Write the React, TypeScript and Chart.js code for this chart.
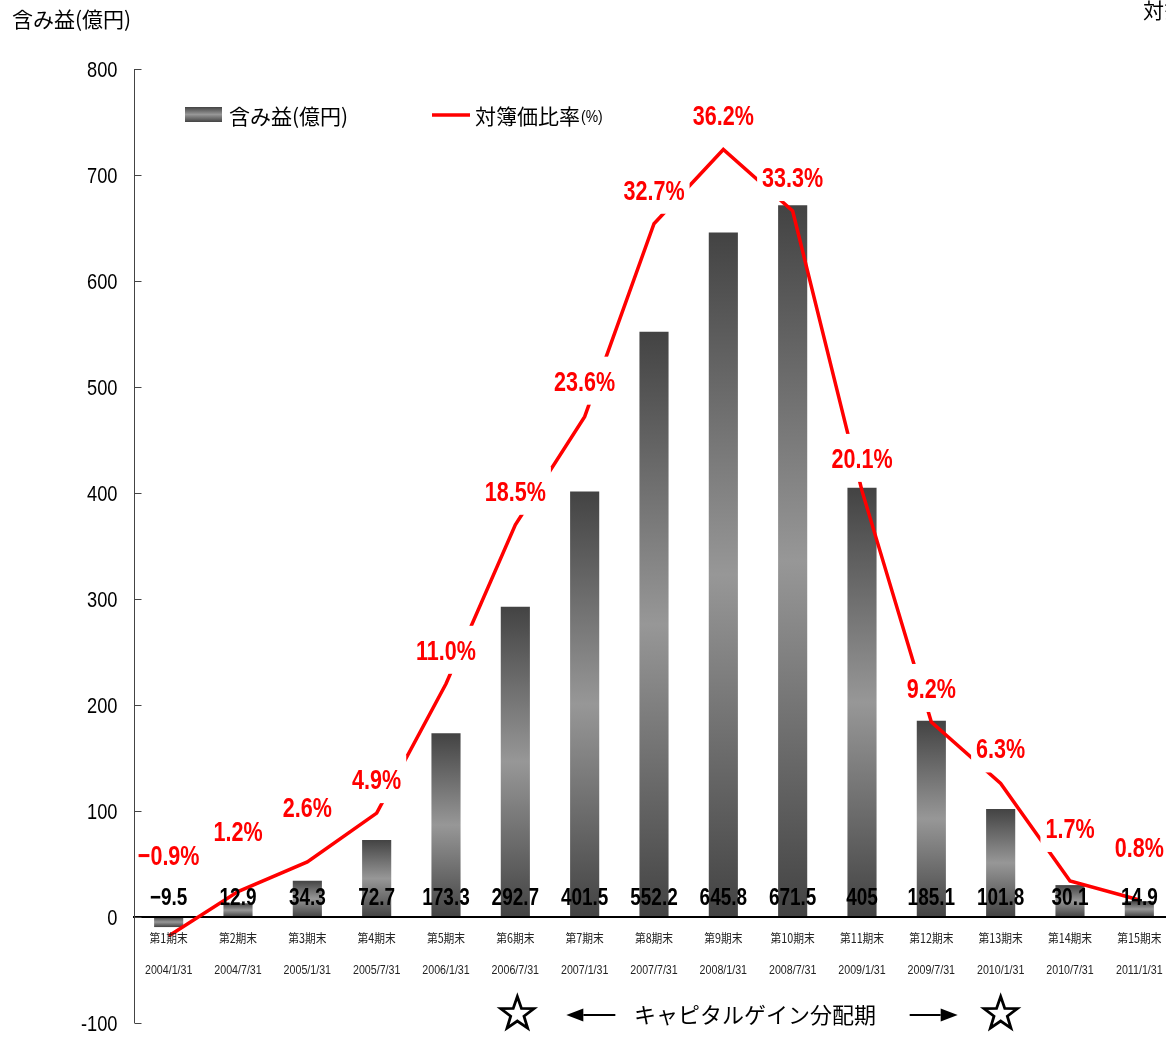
import { useEffect, useRef } from "react";
import { Chart, registerables } from "chart.js";

Chart.register(...registerables);

// ---- data ----
const periods = [
  "第1期末", "第2期末", "第3期末", "第4期末", "第5期末",
  "第6期末", "第7期末", "第8期末", "第9期末", "第10期末",
  "第11期末", "第12期末", "第13期末", "第14期末", "第15期末",
];
const periodDates = [
  "2004/1/31", "2004/7/31", "2005/1/31", "2005/7/31", "2006/1/31",
  "2006/7/31", "2007/1/31", "2007/7/31", "2008/1/31", "2008/7/31",
  "2009/1/31", "2009/7/31", "2010/1/31", "2010/7/31", "2011/1/31",
];
// 含み益 (億円)
const unrealizedGains = [
  -9.5, 12.9, 34.3, 72.7, 173.3, 292.7, 401.5, 552.2, 645.8, 671.5,
  405, 185.1, 101.8, 30.1, 14.9,
];
// 対簿価比率 (%)
const bookValueRatios = [
  -0.9, 1.2, 2.6, 4.9, 11.0, 18.5, 23.6, 32.7, 36.2, 33.3,
  20.1, 9.2, 6.3, 1.7, 0.8,
];
const gainTicks = [-100, 0, 100, 200, 300, 400, 500, 600, 700, 800];
const ratioAxisRange = { min: -5, max: 40 };

// ---- presentation ----
const CANVAS_W = 1300;
const CANVAS_H = 1039;
const SANS = '"Liberation Sans", Arial, sans-serif';
const JP = '"Noto Sans CJK JP", sans-serif';
const NARROW_X = 0.82;
// how far (px) each percentage label sits above its point
const ratioLabelLift = [81, 61, 55, 34, 34, 34, 36, 34, 35, 34, 33, 34, 35, 53, 53];

const fmtRatio = (v: number) => `${v.toFixed(1)}%`.replace("-", "−");
const fmtGain = (v: number) => String(v).replace("-", "−");

// draws horizontally condensed text; returns its drawn width
function narrowText(
  ctx: CanvasRenderingContext2D,
  text: string,
  x: number,
  y: number,
  font: string,
  align: CanvasTextAlign,
  sx = NARROW_X,
  baseline: CanvasTextBaseline = "alphabetic",
) {
  ctx.save();
  ctx.font = font;
  ctx.textAlign = align;
  ctx.textBaseline = baseline;
  ctx.translate(x, y);
  ctx.scale(sx, 1);
  ctx.fillText(text, 0, 0);
  const w = ctx.measureText(text).width * sx;
  ctx.restore();
  return w;
}

function measureNarrow(ctx: CanvasRenderingContext2D, text: string, font: string, sx = NARROW_X) {
  ctx.save();
  ctx.font = font;
  const w = ctx.measureText(text).width * sx;
  ctx.restore();
  return w;
}

function barGradient(ctx: CanvasRenderingContext2D, top: number, base: number) {
  const g = ctx.createLinearGradient(0, top, 0, base);
  g.addColorStop(0, "#434343");
  g.addColorStop(0.5, "#979797");
  g.addColorStop(1, "#434343");
  return g;
}

function drawStar(ctx: CanvasRenderingContext2D, cx: number, cy: number, r: number) {
  const inner = r * 0.4;
  ctx.beginPath();
  for (let i = 0; i < 10; i++) {
    const rad = i % 2 === 0 ? r : inner;
    const a = -Math.PI / 2 + (i * Math.PI) / 5;
    const px = cx + rad * Math.cos(a);
    const py = cy + rad * Math.sin(a);
    if (i === 0) ctx.moveTo(px, py);
    else ctx.lineTo(px, py);
  }
  ctx.closePath();
  ctx.lineWidth = 2.8;
  ctx.lineJoin = "miter";
  ctx.strokeStyle = "#000";
  ctx.stroke();
}

function drawArrow(ctx: CanvasRenderingContext2D, x1: number, x2: number, y: number) {
  // arrow from x1 (tail) to x2 (tip)
  const dir = Math.sign(x2 - x1);
  const head = 17;
  ctx.strokeStyle = "#000";
  ctx.lineWidth = 2;
  ctx.beginPath();
  ctx.moveTo(x1, y);
  ctx.lineTo(x2 - dir * head, y);
  ctx.stroke();
  ctx.fillStyle = "#000";
  ctx.beginPath();
  ctx.moveTo(x2, y);
  ctx.lineTo(x2 - dir * head, y - 6.5);
  ctx.lineTo(x2 - dir * head, y + 6.5);
  ctx.closePath();
  ctx.fill();
}

const decorations = {
  id: "decorations",
  afterDatasetDraw(chart: any, args: any) {
    // zero line sits above the bars but beneath the ratio line
    if (args.index !== 0) return;
    const { ctx, chartArea, scales } = chart;
    const y0 = scales.y.getPixelForValue(0);
    ctx.save();
    ctx.strokeStyle = "#000";
    ctx.lineWidth = 2.2;
    ctx.beginPath();
    ctx.moveTo(chartArea.left - 1, y0);
    ctx.lineTo(chartArea.right, y0);
    ctx.stroke();
    ctx.restore();
  },
  afterDatasetsDraw(chart: any) {
    const { ctx, chartArea, scales } = chart;
    const xs = scales.x;
    const ys = scales.y;
    const y1 = scales.y1;
    ctx.save();

    // ratio labels on white boxes
    const ratioFont = `bold 28px ${SANS}`;
    const ratioSx = 0.77;
    bookValueRatios.forEach((v, i) => {
      const cx = xs.getPixelForValue(i);
      const cy = y1.getPixelForValue(v) - ratioLabelLift[i];
      const text = fmtRatio(v);
      const w = measureNarrow(ctx, text, ratioFont, ratioSx);
      ctx.fillStyle = "#fff";
      ctx.fillRect(cx - w / 2 - 5, cy - 24, w + 10, 48);
      ctx.fillStyle = "#ff0000";
      narrowText(ctx, text, cx, cy + 10, ratioFont, "center", ratioSx);
    });

    // left axis: line, inward ticks, labels
    const ax = Math.round(chartArea.left) + 0.5;
    ctx.strokeStyle = "#444";
    ctx.lineWidth = 1;
    ctx.beginPath();
    ctx.moveTo(ax, chartArea.top);
    ctx.lineTo(ax, chartArea.bottom);
    ctx.stroke();
    ctx.fillStyle = "#000";
    gainTicks.forEach((v) => {
      const py = Math.round(ys.getPixelForValue(v)) + 0.5;
      ctx.beginPath();
      ctx.moveTo(ax, py);
      ctx.lineTo(ax + 7, py);
      ctx.stroke();
      narrowText(ctx, String(v), 117.5, py + 7.6, `21.5px ${SANS}`, "right", 0.85);
    });

    // gain values just above the zero line
    const y0 = ys.getPixelForValue(0);
    ctx.fillStyle = "#000";
    unrealizedGains.forEach((v, i) => {
      narrowText(ctx, fmtGain(v), xs.getPixelForValue(i), y0 - 12, `bold 24px ${SANS}`, "center", 0.79);
    });

    // category labels
    ctx.fillStyle = "#222";
    periods.forEach((p, i) => {
      const cx = xs.getPixelForValue(i);
      narrowText(ctx, p, cx, y0 + 21, `12.5px ${JP}`, "center", 0.86, "middle");
      narrowText(ctx, periodDates[i], cx, y0 + 56.5, `13px ${SANS}`, "center");
    });

    // axis titles
    ctx.textAlign = "left";
    ctx.textBaseline = "middle";
    ctx.fillStyle = "#000";
    ctx.font = `21px ${JP}`;
    ctx.fillText("含み益(億円)", 12, 19);
    ctx.fillText("対簿価比率(%)", 1143, 10);

    // legend
    ctx.fillStyle = barGradient(ctx, 107, 122);
    ctx.fillRect(185, 107, 37, 15);
    ctx.fillStyle = "#000";
    ctx.font = `21px ${JP}`;
    ctx.fillText("含み益(億円)", 229, 116);
    ctx.strokeStyle = "#ff0000";
    ctx.lineWidth = 3.5;
    ctx.beginPath();
    ctx.moveTo(432, 115);
    ctx.lineTo(470, 115);
    ctx.stroke();
    ctx.fillText("対簿価比率", 475, 116);
    const wr = ctx.measureText("対簿価比率").width;
    narrowText(ctx, "(%)", 475 + wr + 1, 122, `17px ${SANS}`, "left");

    // distribution-period annotation
    const xa = xs.getPixelForValue(5);
    const xb = xs.getPixelForValue(12);
    const ya = 1015;
    drawStar(ctx, xa + 2, ya - 1, 17.5);
    drawStar(ctx, xb, ya - 1, 17.5);
    drawArrow(ctx, xa + 100, xa + 51, ya);
    drawArrow(ctx, xb - 91, xb - 43, ya);
    ctx.textAlign = "center";
    ctx.textBaseline = "middle";
    ctx.fillStyle = "#000";
    ctx.font = `22px ${JP}`;
    ctx.fillText("キャピタルゲイン分配期", (xa + xb) / 2 - 3, ya);

    ctx.restore();
  },
};

export default function App() {
  const canvasRef = useRef<HTMLCanvasElement>(null);

  useEffect(() => {
    const canvas = canvasRef.current;
    if (!canvas) return;
    const chart = new Chart(canvas, {
      type: "bar",
      data: {
        labels: periods,
        datasets: [
          {
            type: "bar",
            label: "含み益(億円)",
            data: unrealizedGains,
            yAxisID: "y",
            order: 1,
            barPercentage: 0.42,
            categoryPercentage: 1,
            borderWidth: 0,
            backgroundColor: (c: any) => {
              const ch = c.chart;
              if (!ch.chartArea || c.type !== "data") return "#666";
              const ys = ch.scales.y;
              const top = ys.getPixelForValue(c.raw);
              const base = ys.getPixelForValue(0);
              if (Math.abs(top - base) < 1) return "#666";
              return barGradient(ch.ctx, Math.min(top, base), Math.max(top, base));
            },
          },
          {
            type: "line",
            label: "対簿価比率(%)",
            data: bookValueRatios,
            yAxisID: "y1",
            order: 0,
            borderColor: "#ff0000",
            borderWidth: 3.5,
            pointRadius: 0,
            tension: 0,
            fill: false,
          },
        ],
      } as any,
      options: {
        responsive: false,
        animation: false,
        devicePixelRatio: 1,
        layout: {
          padding: { left: 134, top: 69, right: CANVAS_W - 1174, bottom: CANVAS_H - 1023 },
        },
        plugins: {
          legend: { display: false },
          tooltip: { enabled: false },
        },
        scales: {
          x: {
            type: "category",
            display: false,
            offset: true,
            grid: { display: false },
          },
          y: {
            min: gainTicks[0],
            max: gainTicks[gainTicks.length - 1],
            display: false,
          },
          y1: {
            min: ratioAxisRange.min,
            max: ratioAxisRange.max,
            display: false,
          },
        },
      } as any,
      plugins: [decorations],
    });
    return () => chart.destroy();
  }, []);

  return (
    <div
      style={{
        position: "fixed",
        left: 0,
        top: 0,
        width: 1166,
        height: CANVAS_H,
        overflow: "hidden",
        background: "#fff",
      }}
    >
      <canvas
        ref={canvasRef}
        width={CANVAS_W}
        height={CANVAS_H}
        style={{ display: "block", width: CANVAS_W, height: CANVAS_H }}
      />
    </div>
  );
}
